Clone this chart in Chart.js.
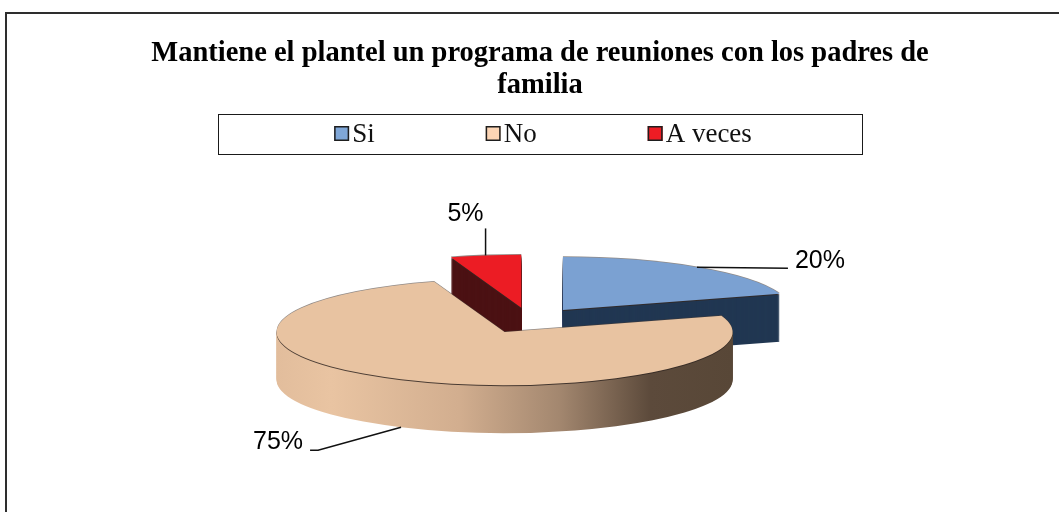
<!DOCTYPE html>
<html>
<head>
<meta charset="utf-8">
<script src="https://cdn.jsdelivr.net/npm/chart.js@4.4.1/dist/chart.umd.min.js"></script>
<style>
  html, body { margin: 0; padding: 0; background: #fff; }
  #wrap { width: 1059px; height: 512px; }
</style>
</head>
<body>
<div id="wrap"><canvas id="pieChart" width="1059" height="512"></canvas></div>
<script>
const categories = ['Si', 'No', 'A veces'];
const values = [20, 75, 5];
const titleLines = ['Mantiene el plantel un programa de reuniones con los padres de', 'familia'];

// colours of the faces
const topColors = ['#7ba1d2', '#e8c3a1', '#ec1c24'];
const sideColors = ['#213752', 'gradient', '#4b1113'];
const legendColors = ['#7fa7d8', '#fcd5b5', '#ee1c24'];

// fake 3d settings
const CX = 530, CY = 320.5;   // screen spot of the pie centre
const TILT = 0.232;
const DEPTH = 48;
const EXPLODE = 56;
const RADIUS = 228;

// leader lines, relative to the slice edge point
const leaders = [
  { line: [[91, 1]], text: [98, 1], align: 'left' },
  { line: [[-83, 23], [-91, 23]], text: [-98, 22], align: 'right' },
  { line: [[0, -27]], text: [-2, -34], align: 'right' }
];

function sideGradient(ctx, arc) {
  const g = ctx.createLinearGradient(arc.x - arc.outerRadius, 0, arc.x + arc.outerRadius, 0);
  g.addColorStop(0, '#e2bd9c');
  g.addColorStop(0.12, '#e9c4a2');
  g.addColorStop(0.4, '#d2ae8f');
  g.addColorStop(0.62, '#a3876f');
  g.addColorStop(0.82, '#5c4a3b');
  g.addColorStop(1, '#584737');
  return g;
}

function drawSlice(ctx, arc, dy, fill) {
  const mid = (arc.startAngle + arc.endAngle) / 2;
  ctx.save();
  ctx.translate(CX + Math.cos(mid) * EXPLODE, CY + Math.sin(mid) * EXPLODE * TILT + dy);
  ctx.scale(1, TILT);
  ctx.translate(-arc.x, -arc.y);
  const face = Object.create(arc);
  face.options = Object.assign({}, arc.options, {
    backgroundColor: typeof fill === 'function' ? fill(ctx, arc) : fill,
    borderWidth: 0,
    offset: 0
  });
  arc.draw.call(face, ctx);
  ctx.restore();
}

const pie3d = {
  id: 'pie3d',
  beforeDraw(chart) {
    const ctx = chart.ctx;
    ctx.save();
    ctx.strokeStyle = '#2e2e2e';
    ctx.lineWidth = 2;
    ctx.beginPath();
    ctx.moveTo(6, 512);
    ctx.lineTo(6, 13);
    ctx.lineTo(1059, 13);
    ctx.stroke();
    ctx.restore();
  },
  beforeDatasetsDraw(chart) {
    const ctx = chart.ctx;
    const arcs = chart.getDatasetMeta(0).data;
    // back slices first, the big one in front last
    [0, 2, 1].forEach(i => {
      const arc = arcs[i];
      const side = sideColors[i] === 'gradient' ? sideGradient : sideColors[i];
      for (let d = DEPTH; d >= 2; d--) {
        drawSlice(ctx, arc, d, side);
      }
      drawSlice(ctx, arc, 1, 'rgba(50,40,35,0.85)');
      drawSlice(ctx, arc, -0.8, 'rgba(70,60,55,0.6)');
      drawSlice(ctx, arc, 0, topColors[i]);
    });
    return false;
  },
  afterDraw(chart) {
    const ctx = chart.ctx;
    const arcs = chart.getDatasetMeta(0).data;

    // legend box
    ctx.save();
    ctx.strokeStyle = '#1a1a1a';
    ctx.lineWidth = 1;
    ctx.strokeRect(218.5, 114.5, 644, 40);
    ctx.font = '27px "Liberation Serif", "Times New Roman", serif';
    ctx.textBaseline = 'alphabetic';
    const box = 15, gap = 3, spacing = 111;
    const widths = categories.map(c => box + gap + ctx.measureText(c).width);
    const total = widths.reduce((a, b) => a + b, 0) + spacing * (categories.length - 1);
    let x = 543 - total / 2;
    categories.forEach((c, i) => {
      ctx.fillStyle = legendColors[i];
      ctx.fillRect(x, 126, box, box);
      ctx.strokeStyle = '#1e1e1e';
      ctx.lineWidth = 1.5;
      ctx.strokeRect(x + 0.75, 126.75, box - 1.5, box - 1.5);
      ctx.fillStyle = '#111';
      ctx.textAlign = 'left';
      ctx.fillText(c, x + box + gap, 142);
      x += widths[i] + spacing;
    });
    ctx.restore();

    // percentage labels with leader lines
    ctx.save();
    ctx.font = '25px "Liberation Sans", Arial, sans-serif';
    ctx.fillStyle = '#000';
    ctx.strokeStyle = '#111';
    ctx.lineWidth = 1.5;
    const sum = values.reduce((a, b) => a + b, 0);
    arcs.forEach((arc, i) => {
      const mid = (arc.startAngle + arc.endAngle) / 2;
      const r = EXPLODE + arc.outerRadius;
      const ax = CX + Math.cos(mid) * r;
      const ay = CY + Math.sin(mid) * r * TILT + (Math.sin(mid) > 0.3 ? DEPTH : 0);
      const spec = leaders[i];
      ctx.beginPath();
      ctx.moveTo(ax, ay);
      spec.line.forEach(p => ctx.lineTo(ax + p[0], ay + p[1]));
      ctx.stroke();
      ctx.textAlign = spec.align;
      ctx.textBaseline = 'alphabetic';
      ctx.fillText(Math.round(values[i] / sum * 100) + '%', ax + spec.text[0], ay + spec.text[1]);
    });
    ctx.restore();
  }
};

new Chart(document.getElementById('pieChart').getContext('2d'), {
  type: 'pie',
  data: {
    labels: categories,
    datasets: [{
      data: values,
      backgroundColor: topColors,
      borderWidth: 0
    }]
  },
  options: {
    responsive: false,
    animation: false,
    radius: RADIUS,
    layout: { padding: { left: 21 } },
    plugins: {
      legend: { display: false },
      tooltip: { enabled: false },
      title: {
        display: true,
        text: titleLines,
        color: '#000',
        font: { family: '"Liberation Serif", "Times New Roman", serif', size: 28.5, weight: 'bold', lineHeight: 1.12 },
        padding: { top: 38, bottom: 10 }
      }
    }
  },
  plugins: [pie3d]
});
</script>
</body>
</html>
